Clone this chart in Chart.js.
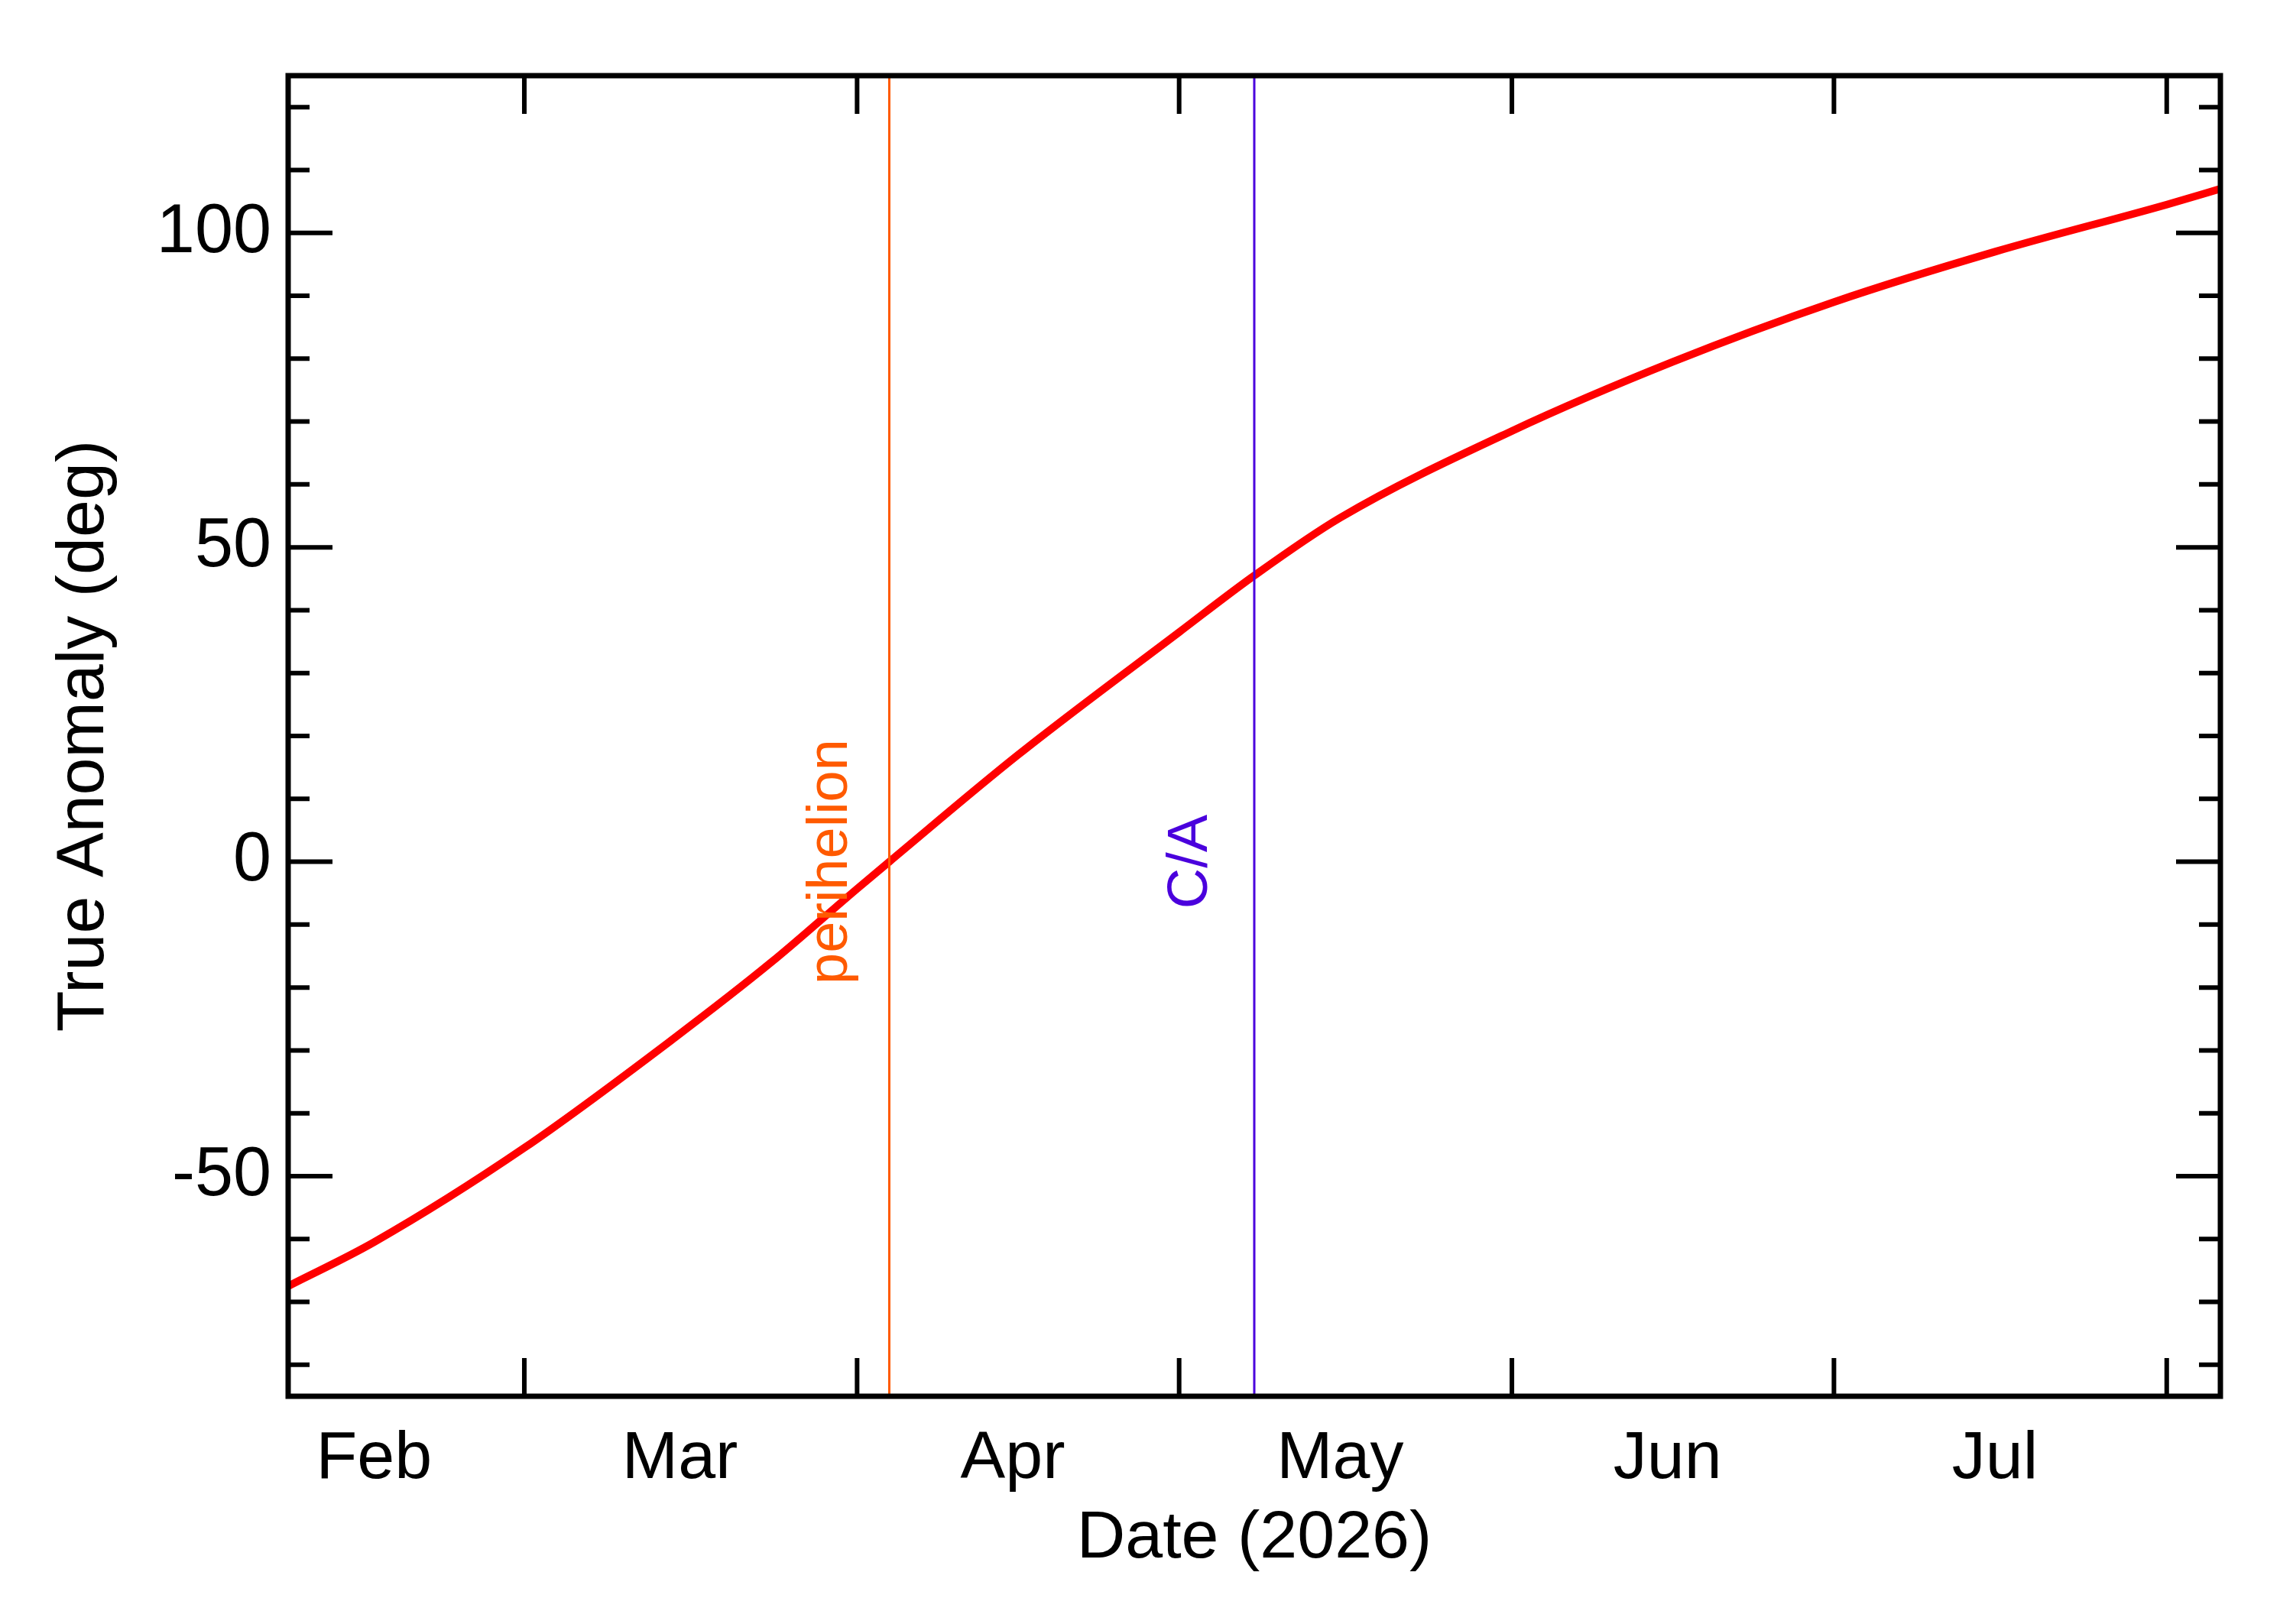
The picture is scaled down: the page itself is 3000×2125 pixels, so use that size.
<!DOCTYPE html>
<html>
<head>
<meta charset="utf-8">
<script src="https://cdn.jsdelivr.net/npm/chart.js@4/dist/chart.umd.min.js"></script>
<style>
  body { margin: 0; background: #fff; }
  #wrap { width: 3000px; height: 2125px; }
</style>
</head>
<body>
<div id="wrap"><canvas id="chart" width="3000" height="2125"></canvas></div>
<script>
// day of 2026, Jan 1 = 0
const days = [37, 45, 59, 73, 82, 90, 93, 105, 120, 127, 135, 151, 166, 181, 196, 212, 217];
const anomaly = [-67.5, -60.5, -45.5, -28, -16, -4.3, 0, 17, 36.5, 45.5, 54.7, 68.5, 79.5, 89, 97, 104.5, 107];

const monthStarts = [59, 90, 120, 151, 181, 212];
const monthMids = [45, 73.5, 104.5, 135, 165.5, 196];
const monthNames = ['Feb', 'Mar', 'Apr', 'May', 'Jun', 'Jul'];

const perihelionDay = 93;
const closeApproachDay = 127;

const FONT = 'Liberation Sans';

const frame = {
  id: 'frame',
  afterDraw(chart) {
    const ctx = chart.ctx;
    const a = chart.chartArea;
    const x = chart.scales.x, y = chart.scales.y;
    ctx.save();
    // event lines
    const marks = [
      { d: perihelionDay, color: '#ff5a00', text: 'perihelion', dx: -64 },
      { d: closeApproachDay, color: '#4a00dd', text: 'C/A', dx: -70 }
    ];
    marks.forEach(m => {
      const px = x.getPixelForValue(m.d);
      ctx.strokeStyle = m.color;
      ctx.lineWidth = 3;
      ctx.beginPath();
      ctx.moveTo(px, a.top);
      ctx.lineTo(px, a.bottom);
      ctx.stroke();
      ctx.save();
      ctx.translate(px + m.dx - 12, y.getPixelForValue(0));
      ctx.rotate(-Math.PI / 2);
      ctx.fillStyle = m.color;
      ctx.font = '74px ' + FONT;
      ctx.textAlign = 'center';
      ctx.textBaseline = 'middle';
      ctx.fillText(m.text, 0, 0);
      ctx.restore();
    });
    // ticks
    ctx.strokeStyle = '#000';
    ctx.lineWidth = 6;
    ctx.beginPath();
    monthStarts.forEach(d => {
      const px = x.getPixelForValue(d);
      ctx.moveTo(px, a.bottom); ctx.lineTo(px, a.bottom - 50);
      ctx.moveTo(px, a.top); ctx.lineTo(px, a.top + 50);
    });
    for (let v = -80; v <= 120; v += 10) {
      const py = y.getPixelForValue(v);
      const len = v % 50 === 0 ? 58 : 28;
      ctx.moveTo(a.left, py); ctx.lineTo(a.left + len, py);
      ctx.moveTo(a.right, py); ctx.lineTo(a.right - len, py);
    }
    ctx.stroke();
    ctx.lineWidth = 7;
    ctx.strokeRect(a.left, a.top, a.right - a.left, a.bottom - a.top);
    ctx.restore();
  }
};

new Chart(document.getElementById('chart').getContext('2d'), {
  type: 'line',
  data: {
    datasets: [{
      data: days.map((d, i) => ({ x: d, y: anomaly[i] })),
      borderColor: '#ff0000',
      borderWidth: 10,
      pointRadius: 0,
      cubicInterpolationMode: 'monotone',
      fill: false
    }]
  },
  options: {
    responsive: false,
    animation: false,
    layout: { padding: { top: 99, right: 95, left: 0, bottom: 0 } },
    plugins: { legend: { display: false }, tooltip: { enabled: false } },
    scales: {
      x: {
        type: 'linear',
        min: 37, max: 217,
        grid: { display: false, drawTicks: false },
        border: { display: false },
        afterBuildTicks: s => { s.ticks = monthMids.map(v => ({ value: v })); },
        afterFit: s => { s.height = 298; },
        ticks: {
          color: '#000', padding: 30, maxRotation: 0, autoSkip: false,
          font: { family: FONT, size: 88 },
          callback: (v) => monthNames[monthMids.indexOf(v)]
        },
        title: { display: true, text: 'Date (2026)', color: '#000', padding: { top: 0, bottom: 58 },
                 font: { family: FONT, size: 88 } }
      },
      y: {
        min: -85, max: 125,
        grid: { display: false, drawTicks: false },
        border: { display: false },
        afterBuildTicks: s => { s.ticks = [-50, 0, 50, 100].map(v => ({ value: v })); },
        afterFit: s => { s.width = 377; },
        ticks: { color: '#000', padding: 22, font: { family: FONT, size: 90 } },
        title: { display: true, text: 'True Anomaly (deg)', color: '#000', padding: { top: 58, bottom: 0 },
                 font: { family: FONT, size: 88 } }
      }
    }
  },
  plugins: [frame]
});
</script>
</body>
</html>
